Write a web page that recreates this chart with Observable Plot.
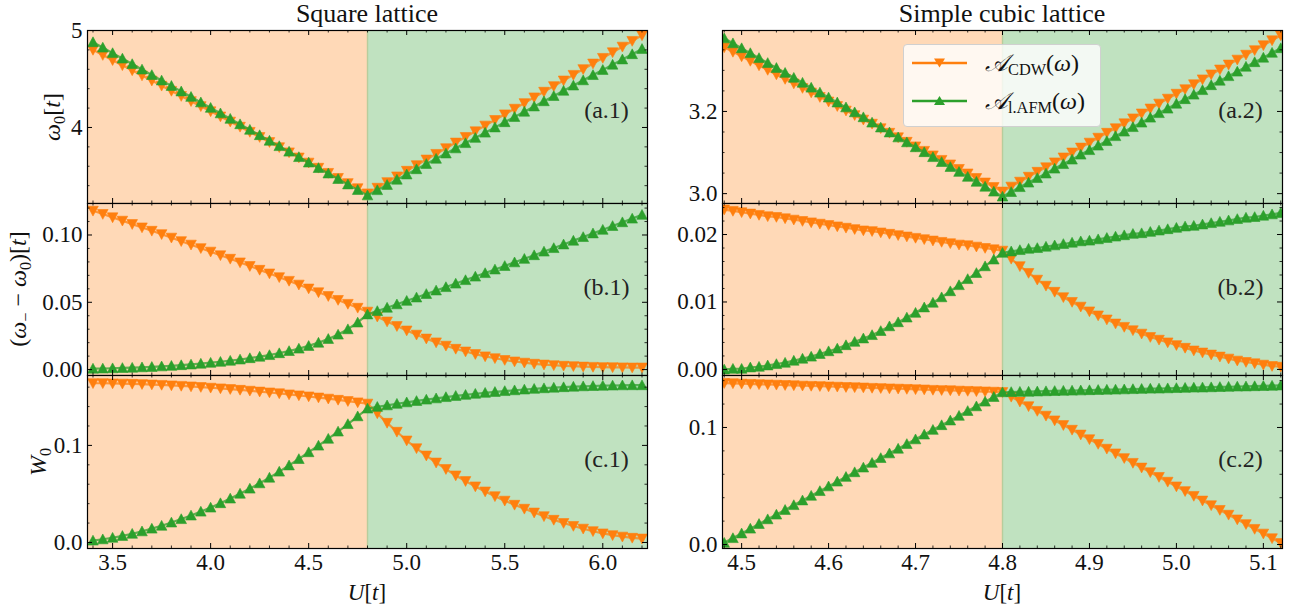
<!DOCTYPE html>
<html><head><meta charset="utf-8">
<script src="https://cdn.jsdelivr.net/npm/d3@7"></script>
<script src="https://cdn.jsdelivr.net/npm/@observablehq/plot@0.6"></script>
<style>
body{margin:0;background:#fff;}
#fig{position:relative;width:1302px;height:615px;font-family:"Liberation Serif",serif;color:#000;overflow:hidden;}
#fig svg text{font-family:"Liberation Serif",serif !important;font-variant:normal !important;}
.t{position:absolute;transform:translate(-50%,-50%);white-space:nowrap;font-size:23px;line-height:1;color:#111;}
.ttl{font-size:26px;}
.yl{position:absolute;transform:translate(-50%,-50%) rotate(-90deg);white-space:nowrap;font-size:24px;line-height:1;color:#111;}
.sb{font-size:0.68em;position:relative;top:0.3em;}
#legend{position:absolute;left:903px;top:44px;width:198px;height:83px;background:rgba(255,255,255,0.8);border:1px solid #d0d0d0;border-radius:4px;box-sizing:border-box;}
.lrow{position:absolute;left:8px;height:26px;display:flex;align-items:center;font-size:24px;white-space:nowrap;color:#111;}
.lrow svg{margin-right:18px;}
</style></head><body><div id="fig"></div>
<script>
// ---------------- data ----------------
const Uc = 4.8;
const U_square = [3.40,3.45,3.50,3.55,3.60,3.65,3.70,3.75,3.80,3.85,3.90,3.95,4.00,4.05,4.10,4.15,4.20,4.25,4.30,4.35,4.40,4.45,4.50,4.55,4.60,4.65,4.70,4.75,4.80,4.85,4.90,4.95,5.00,5.05,5.10,5.15,5.20,5.25,5.30,5.35,5.40,5.45,5.50,5.55,5.60,5.65,5.70,5.75,5.80,5.85,5.90,5.95,6.00,6.05,6.10,6.15,6.20];
const U_cubic = [4.48,4.49,4.50,4.51,4.52,4.53,4.54,4.55,4.56,4.57,4.58,4.59,4.60,4.61,4.62,4.63,4.64,4.65,4.66,4.67,4.68,4.69,4.70,4.71,4.72,4.73,4.74,4.75,4.76,4.77,4.78,4.79,4.80,4.81,4.82,4.83,4.84,4.85,4.86,4.87,4.88,4.89,4.90,4.91,4.92,4.93,4.94,4.95,4.96,4.97,4.98,4.99,5.00,5.01,5.02,5.03,5.04,5.05,5.06,5.07,5.08,5.09,5.10,5.11,5.12];

// square lattice
const omega0_CDW_sq = [4.800,4.747,4.694,4.641,4.589,4.536,4.483,4.430,4.377,4.324,4.271,4.219,4.166,4.113,4.060,4.007,3.954,3.901,3.849,3.796,3.743,3.690,3.637,3.584,3.531,3.479,3.426,3.373,3.320,3.378,3.436,3.495,3.553,3.611,3.669,3.727,3.786,3.844,3.902,3.960,4.019,4.077,4.135,4.193,4.251,4.310,4.368,4.426,4.484,4.542,4.601,4.659,4.717,4.775,4.833,4.892,4.950];
const omega0_AFM_sq = [4.880,4.824,4.767,4.711,4.654,4.598,4.541,4.485,4.429,4.372,4.316,4.259,4.203,4.146,4.090,4.034,3.977,3.921,3.864,3.808,3.751,3.695,3.639,3.582,3.526,3.469,3.413,3.356,3.300,3.354,3.408,3.462,3.516,3.570,3.624,3.678,3.732,3.785,3.839,3.893,3.947,4.001,4.055,4.109,4.163,4.217,4.271,4.325,4.379,4.433,4.487,4.541,4.594,4.648,4.702,4.756,4.810];
const gap_CDW_sq = [0.1180,0.1156,0.1131,0.1106,0.1081,0.1056,0.1031,0.1006,0.0980,0.0954,0.0928,0.0902,0.0876,0.0849,0.0823,0.0796,0.0769,0.0741,0.0714,0.0686,0.0659,0.0631,0.0602,0.0574,0.0546,0.0517,0.0488,0.0459,0.0430,0.0393,0.0357,0.0323,0.0290,0.0259,0.0230,0.0202,0.0177,0.0154,0.0134,0.0115,0.0098,0.0084,0.0071,0.0060,0.0051,0.0043,0.0037,0.0032,0.0028,0.0025,0.0022,0.0020,0.0018,0.0017,0.0016,0.0015,0.0015];
const gap_AFM_sq = [0.0007,0.0008,0.0010,0.0012,0.0014,0.0017,0.0020,0.0024,0.0028,0.0033,0.0038,0.0044,0.0051,0.0058,0.0066,0.0075,0.0085,0.0096,0.0108,0.0122,0.0138,0.0156,0.0176,0.0200,0.0228,0.0260,0.0300,0.0350,0.0410,0.0435,0.0460,0.0485,0.0511,0.0536,0.0562,0.0588,0.0613,0.0639,0.0665,0.0691,0.0717,0.0744,0.0770,0.0797,0.0823,0.0850,0.0877,0.0903,0.0930,0.0958,0.0985,0.1012,0.1039,0.1067,0.1095,0.1122,0.1150];
const W0_CDW_sq = [0.1640,0.1640,0.1638,0.1636,0.1634,0.1631,0.1627,0.1623,0.1618,0.1613,0.1607,0.1601,0.1594,0.1587,0.1580,0.1572,0.1563,0.1554,0.1545,0.1536,0.1525,0.1515,0.1504,0.1493,0.1481,0.1469,0.1456,0.1443,0.1430,0.1330,0.1232,0.1140,0.1050,0.0970,0.0895,0.0823,0.0756,0.0690,0.0632,0.0577,0.0525,0.0476,0.0430,0.0388,0.0347,0.0308,0.0270,0.0233,0.0200,0.0170,0.0142,0.0116,0.0093,0.0075,0.0060,0.0048,0.0040];
const W0_AFM_sq = [0.0020,0.0033,0.0049,0.0068,0.0090,0.0115,0.0143,0.0173,0.0206,0.0241,0.0278,0.0318,0.0360,0.0405,0.0453,0.0503,0.0555,0.0610,0.0668,0.0730,0.0794,0.0860,0.0930,0.0998,0.1069,0.1143,0.1220,0.1300,0.1380,0.1397,0.1413,0.1429,0.1444,0.1458,0.1472,0.1485,0.1498,0.1510,0.1521,0.1532,0.1542,0.1551,0.1560,0.1568,0.1576,0.1583,0.1589,0.1595,0.1600,0.1605,0.1609,0.1612,0.1615,0.1617,0.1619,0.1620,0.1620];

// simple cubic lattice
const omega0_CDW_sc = [3.356,3.345,3.334,3.323,3.312,3.301,3.290,3.279,3.268,3.257,3.246,3.235,3.224,3.213,3.202,3.191,3.180,3.170,3.159,3.148,3.137,3.126,3.115,3.104,3.093,3.082,3.071,3.060,3.049,3.038,3.027,3.016,3.005,3.017,3.029,3.041,3.053,3.064,3.076,3.088,3.100,3.112,3.124,3.136,3.148,3.159,3.171,3.183,3.195,3.207,3.219,3.231,3.243,3.254,3.266,3.278,3.290,3.302,3.314,3.326,3.338,3.349,3.361,3.373,3.385];
const omega0_AFM_sc = [3.378,3.366,3.354,3.342,3.330,3.318,3.306,3.294,3.282,3.270,3.258,3.246,3.234,3.222,3.210,3.198,3.186,3.173,3.161,3.149,3.137,3.125,3.113,3.101,3.089,3.077,3.065,3.053,3.041,3.029,3.017,3.005,2.993,3.004,3.016,3.027,3.038,3.049,3.061,3.072,3.083,3.095,3.106,3.117,3.128,3.140,3.151,3.162,3.173,3.185,3.196,3.207,3.219,3.230,3.241,3.252,3.264,3.275,3.286,3.297,3.309,3.320,3.331,3.343,3.354];
const gap_CDW_sc = [0.0237,0.0235,0.0233,0.0231,0.0229,0.0227,0.0226,0.0224,0.0222,0.0220,0.0218,0.0216,0.0214,0.0212,0.0210,0.0208,0.0206,0.0205,0.0203,0.0201,0.0199,0.0197,0.0195,0.0193,0.0191,0.0189,0.0187,0.0185,0.0184,0.0182,0.0180,0.0178,0.0176,0.0164,0.0153,0.0143,0.0133,0.0124,0.0115,0.0107,0.0100,0.0093,0.0086,0.0080,0.0074,0.0068,0.0063,0.0058,0.0053,0.0048,0.0044,0.0040,0.0036,0.0032,0.0028,0.0025,0.0022,0.0019,0.0016,0.0013,0.0011,0.0009,0.0007,0.0005,0.0004];
const gap_AFM_sc = [0.0000,0.0001,0.0001,0.0003,0.0004,0.0006,0.0008,0.0010,0.0013,0.0016,0.0019,0.0023,0.0027,0.0031,0.0036,0.0041,0.0046,0.0051,0.0057,0.0064,0.0070,0.0077,0.0084,0.0092,0.0099,0.0107,0.0116,0.0125,0.0134,0.0143,0.0153,0.0163,0.0173,0.0175,0.0177,0.0179,0.0180,0.0182,0.0184,0.0186,0.0188,0.0190,0.0191,0.0193,0.0195,0.0197,0.0199,0.0201,0.0202,0.0204,0.0206,0.0208,0.0210,0.0212,0.0213,0.0215,0.0217,0.0219,0.0221,0.0223,0.0225,0.0226,0.0228,0.0230,0.0232];
const W0_CDW_sc = [0.1379,0.1377,0.1374,0.1372,0.1369,0.1367,0.1365,0.1362,0.1360,0.1357,0.1355,0.1353,0.1350,0.1348,0.1345,0.1343,0.1341,0.1338,0.1336,0.1333,0.1331,0.1329,0.1326,0.1324,0.1321,0.1319,0.1317,0.1314,0.1312,0.1309,0.1307,0.1305,0.1302,0.1262,0.1221,0.1181,0.1141,0.1100,0.1060,0.1020,0.0980,0.0939,0.0899,0.0859,0.0818,0.0778,0.0738,0.0697,0.0657,0.0617,0.0577,0.0536,0.0496,0.0456,0.0415,0.0375,0.0335,0.0295,0.0254,0.0214,0.0174,0.0133,0.0093,0.0053,0.0012];
const W0_AFM_sc = [0.0015,0.0055,0.0095,0.0136,0.0176,0.0216,0.0256,0.0296,0.0337,0.0377,0.0417,0.0457,0.0497,0.0538,0.0578,0.0618,0.0658,0.0698,0.0739,0.0779,0.0819,0.0859,0.0899,0.0940,0.0980,0.1020,0.1060,0.1100,0.1141,0.1181,0.1221,0.1261,0.1301,0.1303,0.1305,0.1306,0.1308,0.1310,0.1312,0.1314,0.1315,0.1317,0.1319,0.1321,0.1323,0.1324,0.1326,0.1328,0.1330,0.1332,0.1333,0.1335,0.1337,0.1339,0.1341,0.1342,0.1344,0.1346,0.1348,0.1350,0.1351,0.1353,0.1355,0.1357,0.1359];

// axis ticks
const xTicks_sq = [3.5,4.0,4.5,5.0,5.5,6.0];
const xTicks_sc = [4.5,4.6,4.7,4.8,4.9,5.0,5.1];
const yTicks = {
  a1:[4,5], b1:[0,0.05,0.10], c1:[0,0.1],
  a2:[3.0,3.2], b2:[0,0.01,0.02], c2:[0,0.1]
};
const panelLabels = ["(a.1)","(b.1)","(c.1)","(a.2)","(b.2)","(c.2)"];

// ---------------- drawing ----------------
const ORANGE = "#ff7f0e", GREEN = "#2ca02c";
const triUp = {draw(ctx, size){const r=Math.sqrt(size/Math.PI);ctx.moveTo(0,-r);ctx.lineTo(r,r*0.85);ctx.lineTo(-r,r*0.85);ctx.closePath();}};
const triDown = {draw(ctx, size){const r=Math.sqrt(size/Math.PI);ctx.moveTo(0,r);ctx.lineTo(r,-r*0.85);ctx.lineTo(-r,-r*0.85);ctx.closePath();}};
const FONT = "Liberation Serif";
const fig = document.getElementById("fig");

function rows(U, v){ return U.map((u,i)=>({U:u, v:v[i]})); }
function minor(lo, hi, step, majors){
  const out=[]; const n=Math.round((hi-lo)/step);
  for(let k=0;k<=n;k++){const t=+(lo+k*step).toFixed(6); if(!majors.some(m=>Math.abs(m-t)<step*1e-3)) out.push(t);}
  return out;
}

function panel(o){
  const fw = o.width - o.ml - o.mr, fh = o.height - o.mt - o.mb;
  const cdw = rows(o.U, o.cdw), afm = rows(o.U, o.afm);
  const yfmt = d3.format(o.yf), xfmt = d3.format(".1f");
  const marks = [
    Plot.rect([{a:o.xd[0], b:Uc}], {x1:"a", x2:"b", fill:"#ffd9b7"}),
    Plot.rect([{a:Uc, b:o.xd[1]}], {x1:"a", x2:"b", fill:"#c0e2c0"}),
    Plot.ruleX([Uc], {stroke:"#b7cd9c", strokeWidth:1.4}),
    Plot.line(cdw, {x:"U", y:"v", stroke:ORANGE, strokeWidth:2.2, strokeOpacity:0.75, clip:true}),
    Plot.dot(cdw, {x:"U", y:"v", symbol:triDown, r:5.3, fill:ORANGE, stroke:ORANGE, strokeWidth:0.6, clip:true}),
    Plot.line(afm, {x:"U", y:"v", stroke:GREEN, strokeWidth:2.2, strokeOpacity:0.75, clip:true}),
    Plot.dot(afm, {x:"U", y:"v", symbol:triUp, r:5.3, fill:GREEN, stroke:GREEN, strokeWidth:0.6, clip:true}),
    // inward ticks on all four sides
    Plot.ruleX(o.xMaj, {x:d=>d, insetTop:fh-5, stroke:"#000", strokeWidth:1}),
    Plot.ruleX(o.xMaj, {x:d=>d, insetBottom:fh-5, stroke:"#000", strokeWidth:1}),
    Plot.ruleX(o.xMin, {x:d=>d, insetTop:fh-2.5, stroke:"#000", strokeWidth:0.8}),
    Plot.ruleX(o.xMin, {x:d=>d, insetBottom:fh-2.5, stroke:"#000", strokeWidth:0.8}),
    Plot.ruleY(o.yMaj, {y:d=>d, insetRight:fw-5, stroke:"#000", strokeWidth:1}),
    Plot.ruleY(o.yMaj, {y:d=>d, insetLeft:fw-5, stroke:"#000", strokeWidth:1}),
    Plot.ruleY(o.yMin, {y:d=>d, insetRight:fw-2.5, stroke:"#000", strokeWidth:0.8}),
    Plot.ruleY(o.yMin, {y:d=>d, insetLeft:fw-2.5, stroke:"#000", strokeWidth:0.8}),
    Plot.frame({stroke:"#000", strokeWidth:1.2}),
    // tick labels
    Plot.text(o.yMaj, {y:d=>d, text:d=>yfmt(d), frameAnchor:"left", textAnchor:"end", lineAnchor:"middle", dx:-5, fontFamily:FONT, fontSize:23, fill:"#111"}),
    Plot.text([o.label], {text:d=>d, frameAnchor:"top-right", dx:o.ldx, dy:o.ldy, textAnchor:"middle", lineAnchor:"middle", fontFamily:FONT, fontSize:24, fill:"#222"})
  ];
  if (o.showX) marks.push(Plot.text(o.xMaj, {x:d=>d, text:d=>xfmt(d), frameAnchor:"bottom", textAnchor:"middle", lineAnchor:"top", dy:5, fontFamily:FONT, fontSize:23, fill:"#111"}));
  const svg = Plot.plot({
    width:o.width, height:o.height, marginLeft:o.ml, marginRight:o.mr, marginTop:o.mt, marginBottom:o.mb,
    x: {domain:o.xd, axis:null},
    y: {domain:o.yd, axis:null},
    style:`position:absolute;left:${o.left}px;top:${o.top}px;background:transparent;overflow:visible;font-family:'Liberation Serif',serif;font-size:23px;`,
    marks
  });
  fig.appendChild(svg);
}

const cols = [
  {left:0, width:660, ml:87, mr:13, U:U_square, xd:[3.372,6.228], xMaj:xTicks_sq, xMin:minor(3.4,6.2,0.1,xTicks_sq), ldx:-41},
  {left:660, width:642, ml:62, mr:20, U:U_cubic, xd:[4.478,5.122], xMaj:xTicks_sc, xMin:minor(4.48,5.12,0.02,xTicks_sc), ldx:-42}
];
const rowsDef = [
  {top:0, height:203, mt:30, mb:0, showX:false, ldy:80},
  {top:203, height:172, mt:0, mb:0, showX:false, ldy:84},
  {top:375, height:240, mt:0, mb:67, showX:true, ldy:84}
];
const specs = [
  [ {cdw:omega0_CDW_sq, afm:omega0_AFM_sq, yd:[3.216,5.0], yMaj:yTicks.a1, yMin:minor(3.4,4.8,0.2,yTicks.a1), yf:"d"},
    {cdw:gap_CDW_sq, afm:gap_AFM_sq, yd:[-0.0044,0.1234], yMaj:yTicks.b1, yMin:minor(0.01,0.12,0.01,yTicks.b1), yf:".2f"},
    {cdw:W0_CDW_sq, afm:W0_AFM_sq, yd:[-0.0062,0.172], yMaj:yTicks.c1, yMin:minor(0.02,0.16,0.02,yTicks.c1), yf:".1f"} ],
  [ {cdw:omega0_CDW_sc, afm:omega0_AFM_sc, yd:[2.976,3.397], yMaj:yTicks.a2, yMin:minor(3.0,3.35,0.05,yTicks.a2), yf:".1f"},
    {cdw:gap_CDW_sc, afm:gap_AFM_sc, yd:[-0.0009,0.0246], yMaj:yTicks.b2, yMin:minor(0.002,0.024,0.002,yTicks.b2), yf:".2f"},
    {cdw:W0_CDW_sc, afm:W0_AFM_sc, yd:[-0.0034,0.1444], yMaj:yTicks.c2, yMin:minor(0.02,0.14,0.02,yTicks.c2), yf:".1f"} ]
];
for (let c=0;c<2;c++) for (let r=0;r<3;r++) {
  panel(Object.assign({}, cols[c], rowsDef[r], specs[c][r], {label:panelLabels[c*3+r]}));
}

// ---------------- text ----------------
function addHTML(cls, x, y, html){
  const d=document.createElement("div"); d.className=cls; d.style.left=x+"px"; d.style.top=y+"px"; d.innerHTML=html; fig.appendChild(d);
}
addHTML("t ttl", 367, 14, "Square lattice");
addHTML("t ttl", 1002, 14, "Simple cubic lattice");
addHTML("t", 367, 592, "<i>U</i>[<i>t</i>]");
addHTML("t", 1002, 592, "<i>U</i>[<i>t</i>]");
addHTML("yl", 52, 117, "<i>ω</i><span class='sb'>0</span>[<i>t</i>]");
addHTML("yl", 18, 289, "(<i>ω</i><span class='sb'>−</span> − <i>ω</i><span class='sb'>0</span>)[<i>t</i>]");
addHTML("yl", 38, 462, "<i>W</i><span class='sb'>0</span>");

// legend
const lg=document.createElement("div"); lg.id="legend";
function legRow(top, color, down, sub){
  const tri = down ? "M27.5,10.5 L33,1.5 L22,1.5 Z" : "M27.5,1 L33,10 L22,10 Z";
  return `<div class="lrow" style="top:${top}px"><svg width="55" height="12"><line x1="0" y1="6" x2="55" y2="6" stroke="${color}" stroke-width="2.5"/><path d="${tri}" fill="${color}"/></svg><span><i>𝒜</i><span class='sb'>${sub}</span>(<i>ω</i>)</span></div>`;
}
lg.innerHTML = legRow(5, ORANGE, true, "CDW") + legRow(43, GREEN, false, "l.AFM");
fig.appendChild(lg);
</script>
</body></html>
